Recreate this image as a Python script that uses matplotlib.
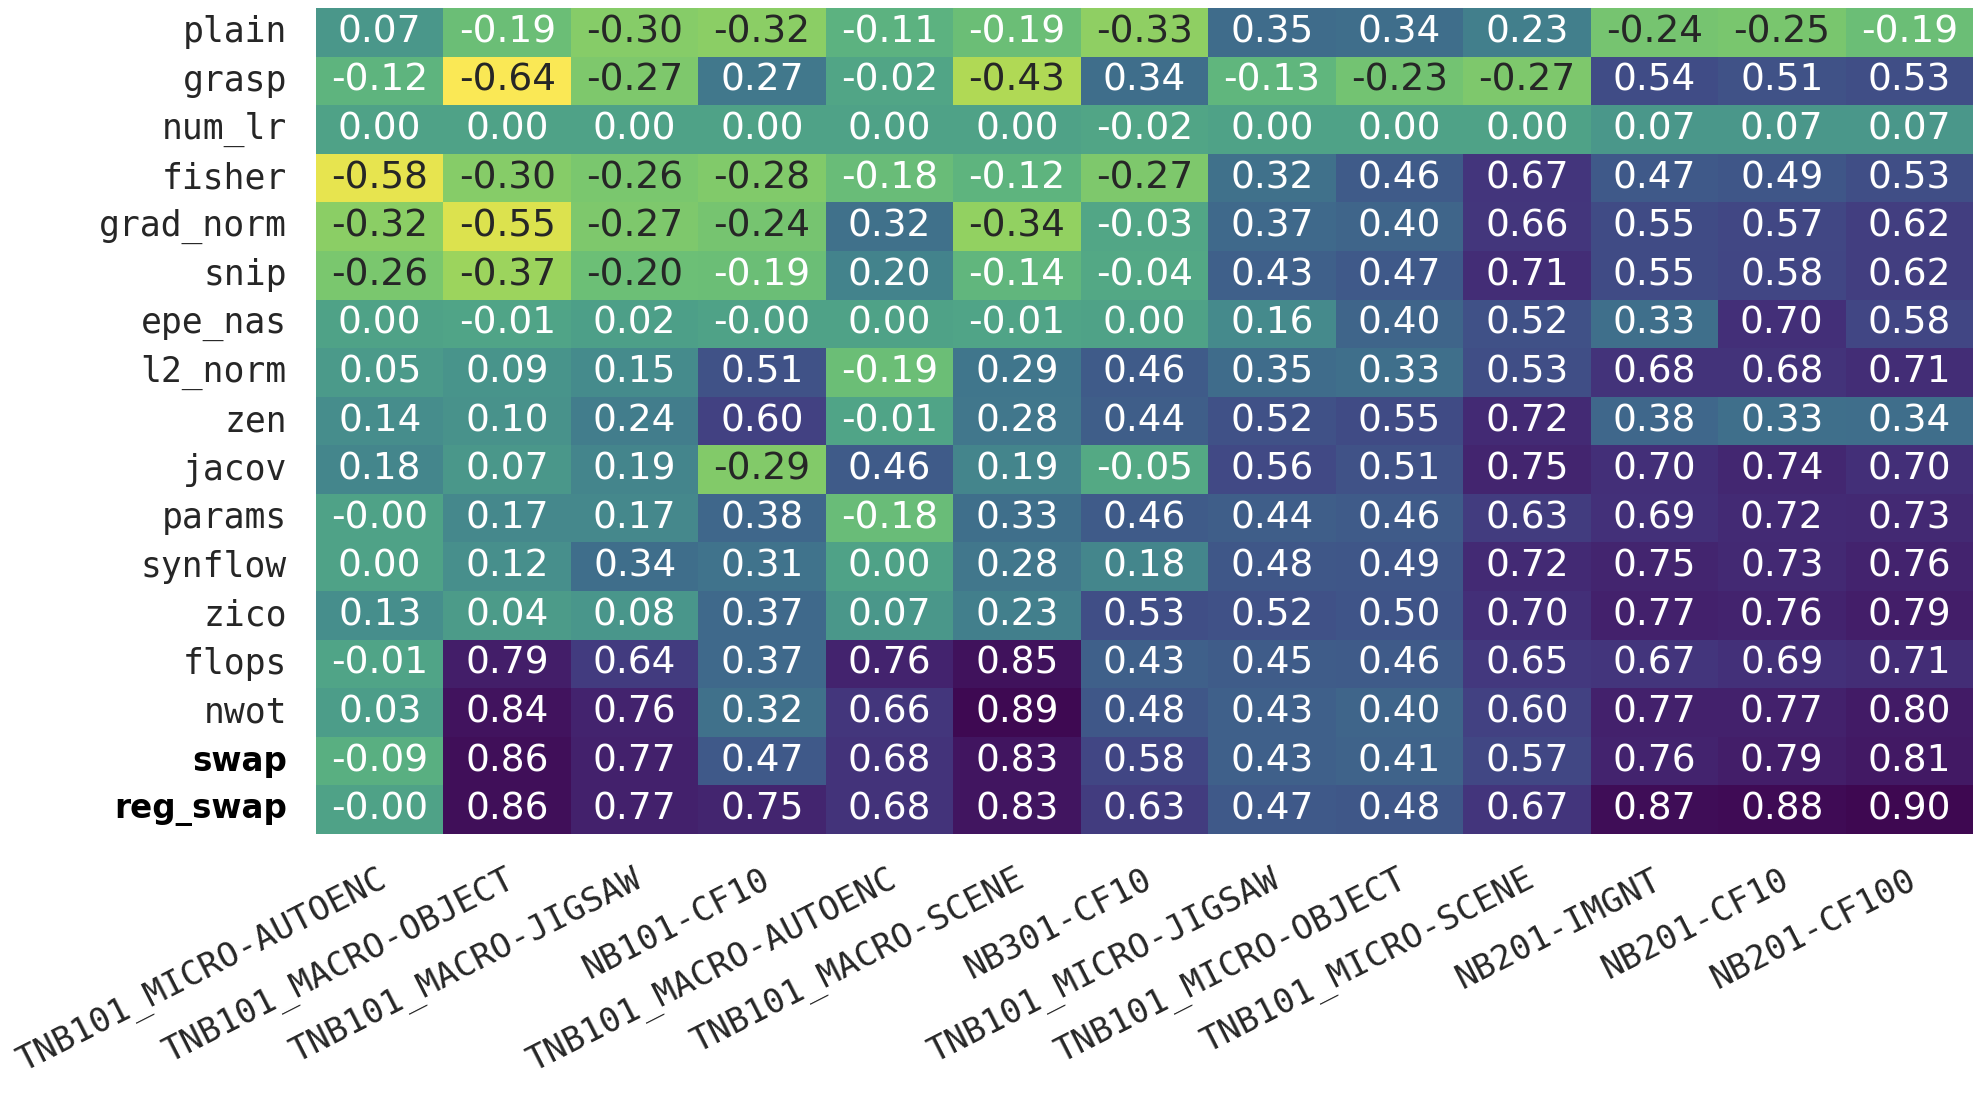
import numpy as np
import matplotlib
matplotlib.use("Agg")
import matplotlib.pyplot as plt
from matplotlib.colors import Normalize, ListedColormap
from matplotlib.transforms import ScaledTranslation

datasets = ["TNB101_MICRO-AUTOENC", "TNB101_MACRO-OBJECT", "TNB101_MACRO-JIGSAW",
            "NB101-CF10", "TNB101_MACRO-AUTOENC", "TNB101_MACRO-SCENE", "NB301-CF10",
            "TNB101_MICRO-JIGSAW", "TNB101_MICRO-OBJECT", "TNB101_MICRO-SCENE",
            "NB201-IMGNT", "NB201-CF10", "NB201-CF100"]

proxies = ["plain", "grasp", "num_lr", "fisher", "grad_norm", "snip", "epe_nas",
           "l2_norm", "zen", "jacov", "params", "synflow", "zico", "flops", "nwot",
           "swap", "reg_swap"]
bold_proxies = ["swap", "reg_swap"]

plain     = [0.07, -0.19, -0.30, -0.32, -0.11, -0.19, -0.33, 0.35, 0.34, 0.23, -0.24, -0.25, -0.19]
grasp     = [-0.12, -0.64, -0.27, 0.27, -0.02, -0.43, 0.34, -0.13, -0.23, -0.27, 0.54, 0.51, 0.53]
num_lr    = [0.00, 0.00, 0.00, 0.00, 0.00, 0.00, -0.02, 0.00, 0.00, 0.00, 0.07, 0.07, 0.07]
fisher    = [-0.58, -0.30, -0.26, -0.28, -0.18, -0.12, -0.27, 0.32, 0.46, 0.67, 0.47, 0.49, 0.53]
grad_norm = [-0.32, -0.55, -0.27, -0.24, 0.32, -0.34, -0.03, 0.37, 0.40, 0.66, 0.55, 0.57, 0.62]
snip      = [-0.26, -0.37, -0.20, -0.19, 0.20, -0.14, -0.04, 0.43, 0.47, 0.71, 0.55, 0.58, 0.62]
epe_nas   = [0.00, -0.01, 0.02, -0.001, 0.00, -0.01, 0.00, 0.16, 0.40, 0.52, 0.33, 0.70, 0.58]
l2_norm   = [0.05, 0.09, 0.15, 0.51, -0.19, 0.29, 0.46, 0.35, 0.33, 0.53, 0.68, 0.68, 0.71]
zen       = [0.14, 0.10, 0.24, 0.60, -0.01, 0.28, 0.44, 0.52, 0.55, 0.72, 0.38, 0.33, 0.34]
jacov     = [0.18, 0.07, 0.19, -0.29, 0.46, 0.19, -0.05, 0.56, 0.51, 0.75, 0.70, 0.74, 0.70]
params    = [-0.001, 0.17, 0.17, 0.38, -0.18, 0.33, 0.46, 0.44, 0.46, 0.63, 0.69, 0.72, 0.73]
synflow   = [0.00, 0.12, 0.34, 0.31, 0.00, 0.28, 0.18, 0.48, 0.49, 0.72, 0.75, 0.73, 0.76]
zico      = [0.13, 0.04, 0.08, 0.37, 0.07, 0.23, 0.53, 0.52, 0.50, 0.70, 0.77, 0.76, 0.79]
flops     = [-0.01, 0.79, 0.64, 0.37, 0.76, 0.85, 0.43, 0.45, 0.46, 0.65, 0.67, 0.69, 0.71]
nwot      = [0.03, 0.84, 0.76, 0.32, 0.66, 0.89, 0.48, 0.43, 0.40, 0.60, 0.77, 0.77, 0.80]
swap      = [-0.09, 0.86, 0.77, 0.47, 0.68, 0.83, 0.58, 0.43, 0.41, 0.57, 0.76, 0.79, 0.81]
reg_swap  = [-0.001, 0.86, 0.77, 0.75, 0.68, 0.83, 0.63, 0.47, 0.48, 0.67, 0.87, 0.88, 0.90]

data = np.array([plain, grasp, num_lr, fisher, grad_norm, snip, epe_nas, l2_norm, zen,
                 jacov, params, synflow, zico, flops, nwot, swap, reg_swap])


def srgb_to_p3_look(rgb):
    """Re-express sRGB colours the way they appear in the reference (Display-P3 values)."""
    rgb = np.asarray(rgb, dtype=float)
    lin = np.where(rgb <= 0.04045, rgb / 12.92, ((rgb + 0.055) / 1.055) ** 2.4)
    m = np.array([[0.8225, 0.1774, 0.0000],
                  [0.0332, 0.9669, 0.0000],
                  [0.0171, 0.0724, 0.9108]])
    out = np.clip(lin @ m.T, 0, 1)
    enc = np.where(out <= 0.0031308, out * 12.92, 1.055 * out ** (1 / 2.4) - 0.055)
    return np.clip(enc, 0, 1)


base = plt.get_cmap("viridis_r")(np.linspace(0, 1, 256))[:, :3]
cmap = ListedColormap(srgb_to_p3_look(base))

fig = plt.figure(figsize=(19.82, 10.94), dpi=100)
ax = fig.add_axes([316/1982, 1 - 834/1094, (1973-316)/1982, (834-8)/1094])

norm = Normalize(vmin=data.min(), vmax=data.max())
ax.pcolormesh(data, cmap=cmap, norm=norm, edgecolors="none")
ax.set_xlim(0, data.shape[1])
ax.set_ylim(data.shape[0], 0)

for i in range(data.shape[0]):
    for j in range(data.shape[1]):
        v = data[i, j]
        color = ".15" if v < -0.195 else "w"
        ax.text(j + 0.5, i + 0.5, f"{v:.2f}", ha="center", va="center",
                color=color, fontsize=27, family="DejaVu Sans")

ax.set_xticks(np.arange(data.shape[1]) + 0.5)
ax.set_yticks(np.arange(data.shape[0]) + 0.5)
ax.tick_params(axis="both", length=0)
ax.tick_params(axis="y", pad=21)
ax.tick_params(axis="x", pad=21)
ax.set_xticklabels(datasets, rotation=27, ha="right", rotation_mode="anchor",
                   family="DejaVu Sans Mono", fontsize=24.5, color=".15")
ax.set_yticklabels(proxies, family="DejaVu Sans Mono", fontsize=25, color=".15",
                   va="center")
for lbl in ax.get_yticklabels():
    if lbl.get_text() in bold_proxies:
        lbl.set_family("DejaVu Sans")
        lbl.set_fontweight("bold")
        lbl.set_fontsize(23.5)
        lbl.set_color("black")
shift = ScaledTranslation(-2 / 100, 0, fig.dpi_scale_trans)
for lbl in ax.get_xticklabels():
    lbl.set_transform(lbl.get_transform() + shift)
for s in ax.spines.values():
    s.set_visible(False)

fig.savefig("out.png", dpi=100, facecolor="white")
